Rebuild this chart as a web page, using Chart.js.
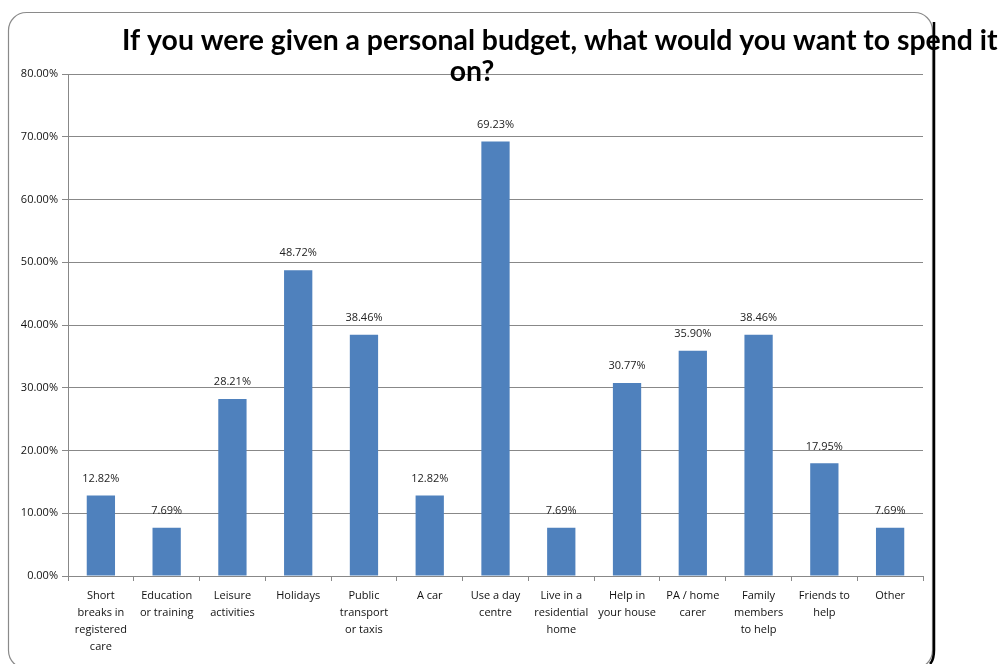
<!DOCTYPE html>
<html>
<head>
<meta charset="utf-8">
<script src="https://cdn.jsdelivr.net/npm/chart.js@4"></script>
<style>
  html, body { margin: 0; padding: 0; background: #fff; }
  #wrap { position: relative; width: 1000px; height: 664px; }
</style>
</head>
<body>
<div id="wrap"><canvas id="budgetChart" width="1000" height="664"></canvas></div>
<script>
// categories (wrapped the way the axis shows them)
const categories = [
    ['Short', 'breaks in', 'registered', 'care'],
    ['Education', 'or training'],
    ['Leisure', 'activities'],
    ['Holidays'],
    ['Public', 'transport', 'or taxis'],
    ['A car'],
    ['Use a day', 'centre'],
    ['Live in a', 'residential', 'home'],
    ['Help in', 'your house'],
    ['PA / home', 'carer'],
    ['Family', 'members', 'to help'],
    ['Friends to', 'help'],
    ['Other']
];
// percentage of respondents
const percentages = [12.82, 7.69, 28.21, 48.72, 38.46, 12.82, 69.23, 7.69, 30.77, 35.90, 38.46, 17.95, 7.69];
const titleLines = ['If you were given a personal budget, what would you want to spend it', 'on?'];

const labelFont = '11px "Open Sans", "DejaVu Sans", sans-serif';

// rounded frame + shadow edge on the right
const framePlugin = {
    id: 'frame',
    beforeDraw(chart) {
        const ctx = chart.ctx;
        ctx.save();
        ctx.fillStyle = '#fff';
        ctx.fillRect(0, 0, chart.width, chart.height);
        ctx.strokeStyle = '#8a8a8a';
        ctx.lineWidth = 1.2;
        ctx.beginPath();
        ctx.roundRect(8.5, 12.5, 924, 656, 18);
        ctx.stroke();
        ctx.restore();
    },
    afterDraw(chart) {
        const ctx = chart.ctx;
        ctx.save();
        ctx.strokeStyle = '#000';
        ctx.lineWidth = 2.5;
        ctx.beginPath();
        ctx.moveTo(934, 22);
        ctx.lineTo(934, 650);
        ctx.quadraticCurveTo(934, 660, 930, 664);
        ctx.stroke();
        // title drawn last so it sits over the frame edge
        ctx.fillStyle = '#000';
        ctx.font = 'bold 100px Lato, "Open Sans", sans-serif';
        const size = 100 * 875 / ctx.measureText(titleLines[0]).width;
        ctx.font = 'bold ' + size.toFixed(1) + 'px Lato, "Open Sans", sans-serif';
        ctx.textAlign = 'left';
        ctx.textBaseline = 'alphabetic';
        ctx.fillText(titleLines[0], 122, 50);
        ctx.textAlign = 'center';
        ctx.fillText(titleLines[1], 472, 81);
        ctx.restore();
    }
};

// value labels above each bar
const valueLabels = {
    id: 'valueLabels',
    afterDatasetsDraw(chart) {
        const ctx = chart.ctx;
        const meta = chart.getDatasetMeta(0);
        ctx.save();
        ctx.font = labelFont;
        ctx.fillStyle = '#222';
        ctx.textAlign = 'center';
        ctx.textBaseline = 'middle';
        meta.data.forEach((bar, i) => {
            ctx.fillText(percentages[i].toFixed(2) + '%', bar.x, bar.y - 17);
        });
        ctx.restore();
    }
};

const ctx = document.getElementById('budgetChart').getContext('2d');
new Chart(ctx, {
    type: 'bar',
    data: {
        labels: categories,
        datasets: [{
            data: percentages,
            backgroundColor: '#4f81bd',
            categoryPercentage: 1,
            barPercentage: 0.43
        }]
    },
    options: {
        responsive: false,
        animation: false,
        layout: { padding: { left: 0, right: 77, top: 74, bottom: 0 } },
        plugins: {
            legend: { display: false },
            title: { display: false },
            tooltip: { enabled: false }
        },
        scales: {
            x: {
                grid: {
                    drawOnChartArea: false,
                    drawTicks: true,
                    tickLength: 5,
                    color: '#888'
                },
                border: { color: '#888', width: 1 },
                ticks: {
                    color: '#111',
                    font: { family: '"Open Sans", "DejaVu Sans", sans-serif', size: 11, lineHeight: 1.55 },
                    maxRotation: 0,
                    autoSkip: false,
                    padding: 6
                },
                afterFit(scale) { scale.height = 88; }
            },
            y: {
                min: 0,
                max: 80,
                ticks: {
                    stepSize: 10,
                    color: '#111',
                    font: { family: '"Open Sans", "DejaVu Sans", sans-serif', size: 11 },
                    padding: 4,
                    callback: v => v.toFixed(2) + '%'
                },
                grid: {
                    color: '#888',
                    tickLength: 6
                },
                border: { color: '#888', width: 1 },
                afterFit(scale) { scale.width = 68; }
            }
        }
    },
    plugins: [framePlugin, valueLabels]
});
</script>
</body>
</html>
